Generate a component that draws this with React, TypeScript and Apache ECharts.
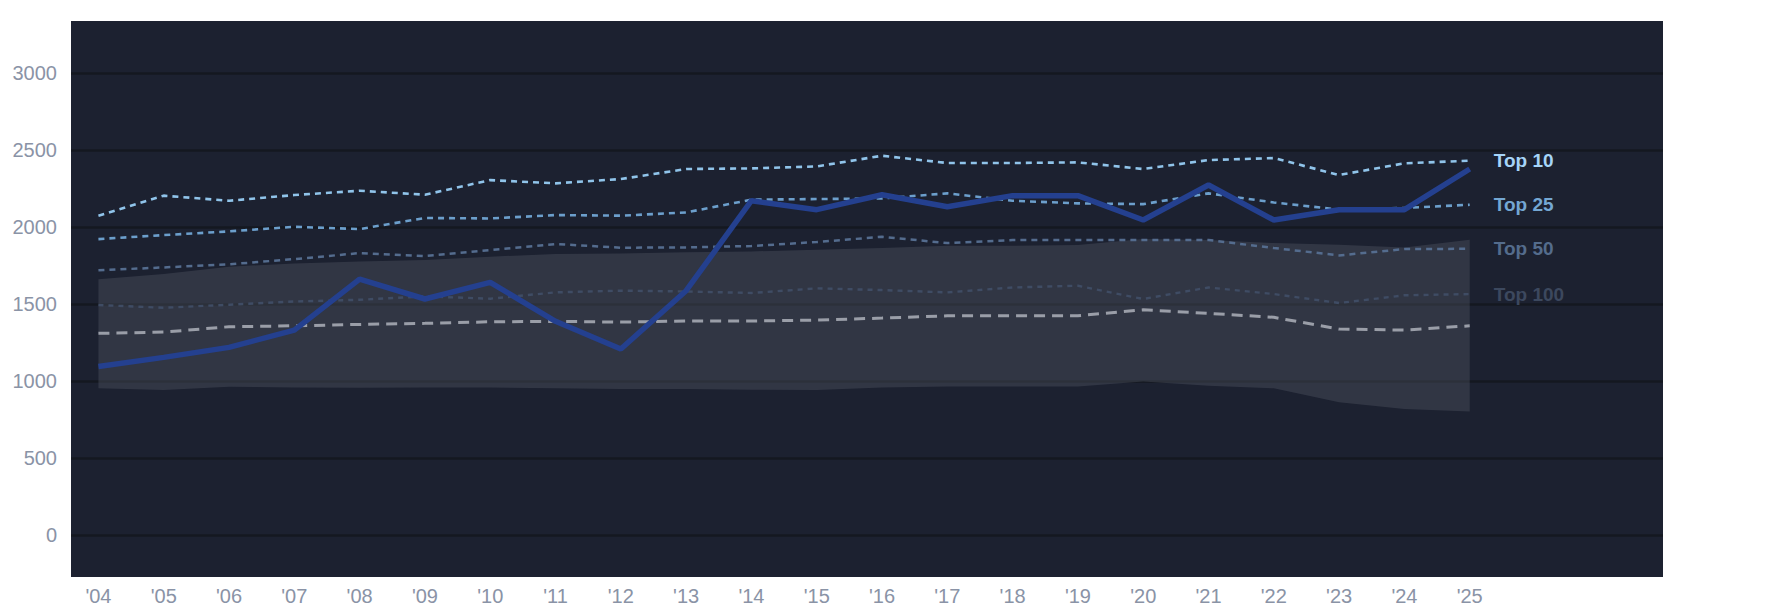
import React, { useEffect, useRef } from "react";
import * as echarts from "echarts";

const years = ["'04", "'05", "'06", "'07", "'08", "'09", "'10", "'11", "'12", "'13", "'14", "'15", "'16", "'17", "'18", "'19", "'20", "'21", "'22", "'23", "'24", "'25"];
const top10 = [2076, 2206, 2173, 2210, 2238, 2212, 2307, 2286, 2314, 2379, 2383, 2396, 2465, 2418, 2418, 2422, 2379, 2437, 2450, 2340, 2416, 2433];
const top25 = [1924, 1950, 1974, 2004, 1989, 2061, 2058, 2080, 2076, 2097, 2180, 2184, 2188, 2221, 2173, 2156, 2151, 2221, 2162, 2115, 2126, 2147];
const top50 = [1721, 1740, 1760, 1794, 1833, 1814, 1853, 1892, 1868, 1870, 1879, 1905, 1939, 1898, 1918, 1918, 1918, 1918, 1866, 1818, 1859, 1861];
const top100 = [1496, 1478, 1498, 1519, 1530, 1552, 1537, 1578, 1589, 1584, 1574, 1604, 1593, 1578, 1610, 1621, 1535, 1610, 1567, 1509, 1559, 1567];
const median = [1312, 1320, 1355, 1361, 1370, 1377, 1387, 1390, 1385, 1392, 1392, 1398, 1411, 1426, 1426, 1426, 1465, 1442, 1416, 1340, 1333, 1361];
const bandUpper = [1664, 1697, 1745, 1766, 1779, 1788, 1810, 1827, 1831, 1838, 1844, 1855, 1866, 1881, 1881, 1885, 1924, 1918, 1898, 1887, 1870, 1920];
const bandLower = [955, 944, 965, 961, 959, 961, 961, 955, 950, 950, 946, 944, 961, 967, 967, 967, 1000, 972, 955, 864, 820, 805];
const mainLine = [1097, 1156, 1221, 1333, 1664, 1535, 1643, 1390, 1210, 1589, 2173, 2115, 2212, 2134, 2206, 2206, 2048, 2275, 2048, 2115, 2115, 2379];
const yTicks = [0, 500, 1000, 1500, 2000, 2500, 3000];

const FONT = "'Liberation Sans', Arial, Helvetica, sans-serif";

const pts = (arr: number[]) => arr.map((v, i) => [i, v]);

const refLine = (name: string, data: number[], color: string, labelColor: string, width: number, dash: number[]) => ({
  name,
  type: "line",
  data: pts(data),
  symbol: "none",
  silent: true,
  lineStyle: { color, width, type: dash },
  endLabel: {
    show: true,
    formatter: name,
    color: labelColor,
    fontSize: 19,
    fontWeight: "bold",
    fontFamily: FONT,
    distance: 24,
  },
  z: 3,
});

export default function App() {
  const ref = useRef<HTMLDivElement>(null);
  useEffect(() => {
    document.body.style.margin = "0";
    const chart = echarts.init(ref.current!, null, { renderer: "svg" });
    chart.setOption({
      animation: false,
      backgroundColor: "#ffffff",
      grid: {
        left: 71,
        right: 122,
        top: 21,
        bottom: 37,
        show: true,
        backgroundColor: "#1c2130",
        borderWidth: 0,
      },
      xAxis: {
        type: "value",
        min: -0.42,
        max: 23.96,
        axisLine: { show: false },
        axisTick: { show: false, customValues: years.map((_, i) => i) },
        splitLine: { show: false },
        axisLabel: {
          customValues: years.map((_, i) => i),
          formatter: (v: number) => years[Math.round(v)] ?? "",
          color: "#8a93a6",
          fontSize: 20,
          fontFamily: FONT,
          margin: 9,
        },
      },
      yAxis: {
        type: "value",
        min: -270,
        max: 3340,
        axisLine: { show: false },
        axisTick: { show: false, customValues: yTicks },
        axisLabel: {
          customValues: yTicks,
          formatter: (v: number) => String(v),
          color: "#8a93a6",
          fontSize: 20,
          fontFamily: FONT,
          margin: 14,
        },
        splitLine: { show: true, lineStyle: { color: "#141820", width: 2.5 } },
      },
      series: [
        {
          type: "custom",
          silent: true,
          data: years.map((_, i) => [i, bandLower[i], bandUpper[i]]),
          encode: { x: 0, y: [1, 2] },
          renderItem: (params: any, api: any) => {
            if (params.dataIndex !== 0) return null;
            const upperPts = bandUpper.map((v, i) => api.coord([i, v]));
            const lowerPts = bandLower.map((v, i) => api.coord([i, v])).reverse();
            return {
              type: "polygon",
              shape: { points: upperPts.concat(lowerPts) },
              style: { fill: "rgba(84,89,102,0.38)" },
            };
          },
          z: 1,
        },
        {
          name: "median",
          type: "line",
          data: pts(median),
          symbol: "none",
          silent: true,
          lineStyle: { color: "#9a9ea8", width: 3, type: [11, 7] },
          z: 2,
        },
        refLine("Top 100", top100, "#3f4c64", "#3c485e", 2.4, [5, 5]),
        refLine("Top 50", top50, "#546c8e", "#546c8c", 2.5, [6, 5]),
        refLine("Top 25", top25, "#6c9fcc", "#74a7d3", 2.6, [6, 5]),
        refLine("Top 10", top10, "#90c4ea", "#a6d4f8", 2.6, [6, 5]),
        {
          name: "main",
          type: "line",
          data: pts(mainLine),
          symbol: "none",
          silent: true,
          lineStyle: { color: "#24408f", width: 5.5 },
          z: 5,
        },
      ],
    });
    return () => chart.dispose();
  }, []);
  return <div ref={ref} style={{ width: 1785, height: 614 }} />;
}
